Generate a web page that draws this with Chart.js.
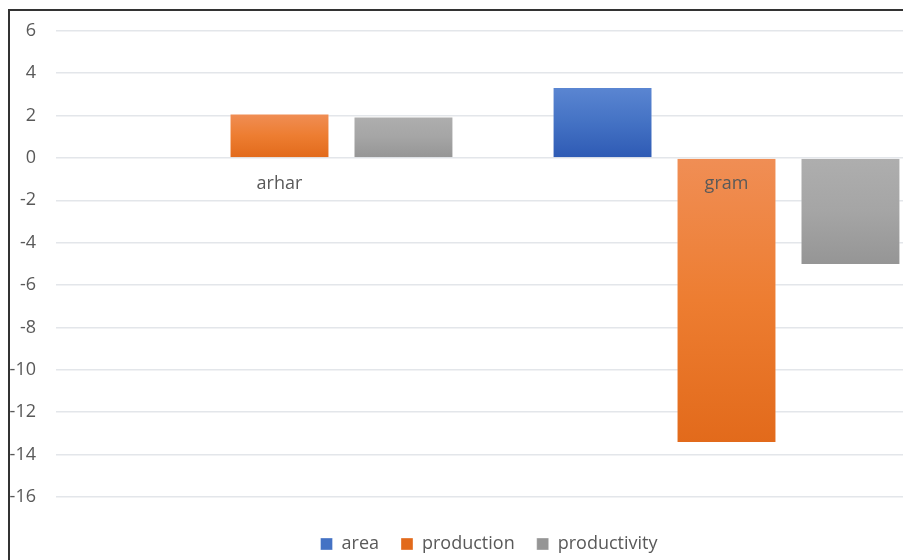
<!DOCTYPE html>
<html>
<head>
<meta charset="utf-8">
<script src="https://cdn.jsdelivr.net/npm/chart.js@4.4.1/dist/chart.umd.min.js"></script>
<style>
  html, body { margin: 0; padding: 0; background: #fff; overflow: hidden; }
  #wrap { position: absolute; left: 0; top: 0; width: 976px; height: 563px; }
  #frame { position: absolute; left: 8px; top: 9px; width: 1000px; height: 600px;
           border-left: 2px solid #333; border-top: 2px solid #333; pointer-events: none; }
</style>
</head>
<body>
<div id="wrap"><canvas id="cropChart"></canvas></div>
<div id="frame"></div>
<script>
// values
const categories = ['arhar', 'gram'];
const areaValues = [0, 3.35];
const productionValues = [2.1, -13.45];
const productivityValues = [1.95, -5.05];
const yTicks = [6, 4, 2, 0, -2, -4, -6, -8, -10, -12, -14, -16];

const textColor = '#595959';
const fontFamily = '"Open Sans", "Noto Sans", sans-serif';

// top -> bottom gradient per bar, flat colour for the legend swatch
function barFill(flat, light, dark) {
    return (c) => {
        const chart = c.chart;
        if (c.type !== 'data' || !chart.chartArea || !chart.scales.y) return flat;
        const y = chart.scales.y;
        const v = c.raw || 0;
        const top = y.getPixelForValue(Math.max(v, 0));
        const bot = y.getPixelForValue(Math.min(v, 0));
        if (bot - top < 1) return flat;
        const g = chart.ctx.createLinearGradient(0, top, 0, bot);
        g.addColorStop(0, light);
        g.addColorStop(0.5, flat);
        g.addColorStop(1, dark);
        return g;
    };
}

// legend is centred on the whole (cut off) chart, a bit right of the plot centre
const legendNudge = {
    id: 'legendNudge',
    afterLayout(chart) {
        chart.legend.left += 14;
        chart.legend.right += 14;
    }
};

function renderCropChart() {
    const ctx = document.getElementById('cropChart');
    new Chart(ctx, {
        type: 'bar',
        data: {
            labels: categories,
            datasets: [
                {
                    label: 'area',
                    data: areaValues,
                    backgroundColor: barFill('#4472C4', '#5B86D2', '#2E5AB4'),
                    borderColor: 'rgba(255,255,255,0.35)',
                    borderWidth: 1
                },
                {
                    label: 'production',
                    data: productionValues,
                    backgroundColor: barFill('#ED7D31', '#F08E55', '#E26A1B'),
                    borderColor: 'rgba(255,255,255,0.35)',
                    borderWidth: 1
                },
                {
                    label: 'productivity',
                    data: productivityValues,
                    backgroundColor: barFill('#A5A5A5', '#AEAEAE', '#959595'),
                    borderColor: 'rgba(255,255,255,0.35)',
                    borderWidth: 1
                }
            ]
        },
        plugins: [legendNudge],
        options: {
            responsive: true,
            maintainAspectRatio: false,
            animation: false,
            layout: { padding: { left: 0, top: 30, right: 26, bottom: 0 } },
            datasets: {
                bar: { categoryPercentage: 0.832, barPercentage: 0.806 }
            },
            plugins: {
                tooltip: { enabled: false },
                legend: {
                    position: 'bottom',
                    // empty title only pushes the legend row down from the plot
                    title: { display: true, text: '', padding: 0, font: { size: 10, lineHeight: 1.6 } },
                    labels: {
                        color: textColor,
                        font: { family: fontFamily, size: 18 },
                        boxWidth: 12,
                        boxHeight: 12,
                        padding: 22
                    }
                }
            },
            scales: {
                x: {
                    position: { y: 0 },
                    grid: { display: false },
                    border: { display: false },
                    ticks: {
                        z: 1, // draw category names over the bars
                        color: textColor,
                        font: { family: fontFamily, size: 18 },
                        padding: 7
                    }
                },
                y: {
                    min: -16,
                    max: 6,
                    afterFit: (s) => { s.width = 56; },
                    afterBuildTicks: (s) => { s.ticks = yTicks.map(v => ({ value: v })); },
                    grid: { color: '#E3E6EA', lineWidth: 1.5, drawTicks: false },
                    border: { display: false },
                    ticks: {
                        color: textColor,
                        font: { family: fontFamily, size: 18 },
                        padding: 20
                    }
                }
            }
        }
    });
}

renderCropChart();
</script>
</body>
</html>
